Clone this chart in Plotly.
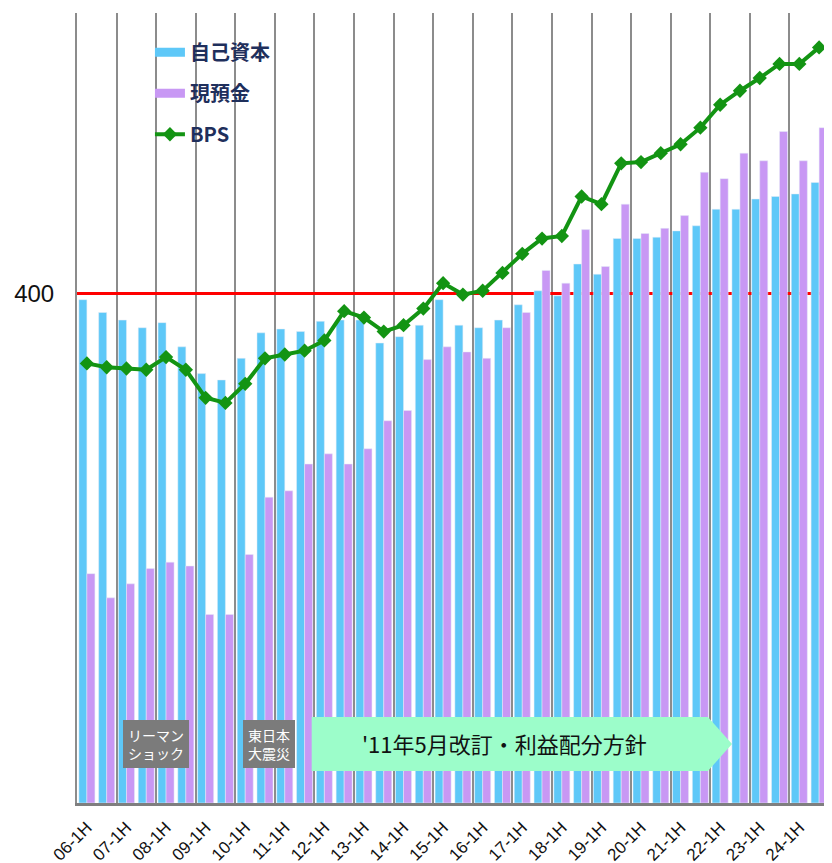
import plotly.graph_objects as go

years = [f"{y:02d}" for y in range(6, 25)]
periods = [f"{y}-{h}" for y in years for h in ("1H", "2H")]
tick_labels = [p for p in periods if p.endswith("1H")]

equity = [395, 385, 379, 373, 377, 358, 337, 332, 349, 369,
          372, 370, 378, 379, 379, 361, 366, 375, 395, 375,
          373, 379, 391, 402, 398, 423, 415, 443, 443, 444,
          449, 453, 466, 466, 474, 476, 478, 487]
cash = [180, 161, 172, 184, 189, 186, 148, 148, 195, 240,
        245, 266, 274, 266, 278, 300, 308, 348, 358, 354,
        349, 373, 385, 418, 408, 450, 421, 470, 447, 451,
        461, 495, 490, 510, 504, 527, 504, 530]
bps = [345, 342, 341, 340, 350, 340, 318, 314, 329, 349,
       352, 355, 363, 386, 381, 370, 375, 388, 408, 399,
       402, 416, 431, 443, 445, 476, 470, 502, 503, 510,
       517, 530, 548, 559, 569, 580, 580, 593]
threshold = 400

BLUE = "#5ec8f8"
VIOLET = "#c898f4"
GREEN = "#139413"
JP = "Noto Sans CJK JP"

x = list(range(len(periods)))

fig = go.Figure()
fig.add_trace(go.Bar(x=x, y=equity, marker_color=BLUE, name="自己資本",
                     showlegend=False, hovertext=periods))
fig.add_trace(go.Bar(x=x, y=cash, marker_color=VIOLET, name="現預金",
                     showlegend=False, hovertext=periods))

# legend swatches drawn as thick lines, like the original legend
for name, color, grp in [("自己資本", BLUE, "a"), ("現預金", VIOLET, "b")]:
    fig.add_trace(go.Scatter(x=[None], y=[None], mode="lines", name=name,
                             line=dict(color=color, width=9), legendgroup=grp))

fig.add_trace(go.Scatter(x=x, y=bps, mode="lines+markers", name="BPS",
                         line=dict(color=GREEN, width=4),
                         marker=dict(symbol="diamond", size=11, color=GREEN),
                         legendgroup="c", hovertext=periods))

# event labels
for label, xc in [("リーマン<br>ショック", 3.47), ("東日本<br>大震災", 9.18)]:
    fig.add_annotation(x=xc, y=46, xref="x", yref="y", text=label, showarrow=False,
                       font=dict(family=JP, size=14, color="white"),
                       bgcolor="#7b7b7b", bordercolor="#7b7b7b", borderpad=4)

fig.add_shape(type="path", xref="x", yref="y", layer="above",
              path="M 11.36,67.5 L 31.38,67.5 L 32.6,46.3 L 31.38,25.1 L 11.36,25.1 Z",
              fillcolor="#9cfdca", line=dict(width=0))
fig.add_annotation(x=21.1, y=47, xref="x", yref="y", text="'11年5月改訂・利益配分方針",
                   showarrow=False, font=dict(family=JP, size=22, color="#111"))

# page body adds an 8px margin, so the figure is a bit smaller than the window
fig.update_layout(
    width=824,
    height=855,
    margin=dict(l=69, r=3, t=5, b=60),
    plot_bgcolor="white",
    paper_bgcolor="white",
    barmode="group",
    bargap=0.19,
    bargroupgap=0,
    legend=dict(x=0.097, y=0.975, xanchor="left", yanchor="top",
                font=dict(family=JP, size=20, color="#1f2f5c", weight="bold"),
                bgcolor="rgba(0,0,0,0)", traceorder="grouped", tracegroupgap=12),
    xaxis=dict(
        range=[-0.5, len(periods) - 0.5],
        tickmode="array",
        tickvals=[periods.index(t) for t in tick_labels],
        ticktext=tick_labels,
        tickangle=-45,
        tickfont=dict(family="Liberation Sans", size=17, color="#111"),
        ticks="",
        ticklabelstandoff=5,
        automargin=False,
        showgrid=False,
        zeroline=False,
        showline=True,
        linecolor="#7f7f7f",
        linewidth=3,
        minor=dict(tickmode="linear", tick0=-0.5, dtick=2, showgrid=True,
                   gridcolor="#8c8c8c", gridwidth=2, ticks=""),
    ),
    yaxis=dict(
        range=[0, 620],
        tickmode="array",
        tickvals=[threshold],
        ticktext=[str(threshold)],
        tickfont=dict(family="Liberation Sans", size=24, color="#111"),
        ticks="",
        ticklabelstandoff=16,
        automargin=False,
        showgrid=True,
        gridcolor="#ff0000",
        gridwidth=3,
        zeroline=False,
        showline=True,
        mirror=True,
        linecolor="#8c8c8c",
        linewidth=2,
    ),
)

fig.write_html("out.html")
